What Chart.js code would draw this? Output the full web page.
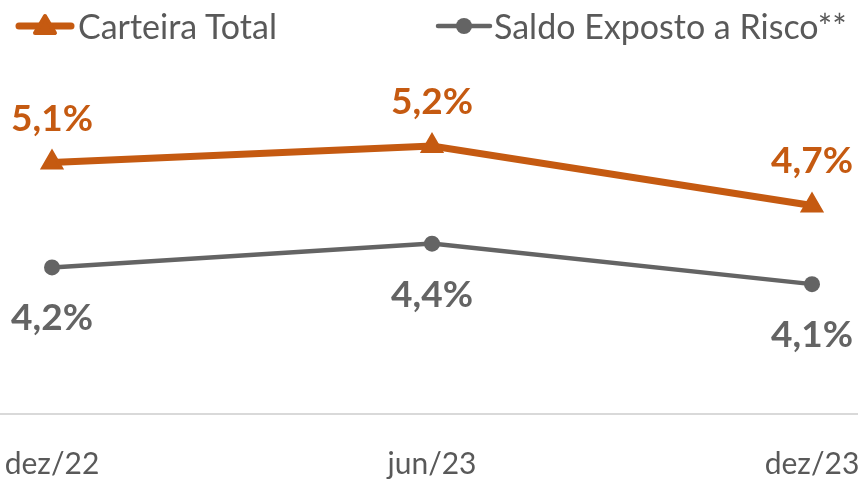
<!DOCTYPE html>
<html lang="pt">
<head>
    <meta charset="UTF-8">
    <title>Carteira Total x Saldo Exposto a Risco</title>
    <script src="https://cdn.jsdelivr.net/npm/chart.js@4"></script>
    <style>
        html, body {
            margin: 0;
            padding: 0;
            background: #ffffff;
        }
        #wrap {
            position: relative;
            width: 858px;
            height: 479px;
        }
        .legenda {
            position: absolute;
            top: 4px;
            height: 44px;
            line-height: 44px;
            font-family: Lato, "Open Sans", sans-serif;
            font-size: 34px;
            color: #595959;
            white-space: nowrap;
        }
        .legenda canvas {
            position: absolute;
            top: 7px;
            left: 0;
        }
        #leg1 { left: 15px; padding-left: 63px; }
        #leg2 { left: 434px; padding-left: 60px; }
    </style>
</head>
<body>
    <div id="wrap">
        <canvas id="grafico"></canvas>
        <div class="legenda" id="leg1"><canvas id="ico1" width="60" height="30"></canvas>Carteira Total</div>
        <div class="legenda" id="leg2"><canvas id="ico2" width="60" height="30"></canvas>Saldo Exposto a Risco**</div>
    </div>

    <script>
        // dados
        const periodos = ['dez/22', 'jun/23', 'dez/23'];
        const carteiraTotal = [5.08, 5.22, 4.72];
        const saldoExposto = [4.20, 4.40, 4.06];

        const laranja = '#C55A11';
        const cinza = '#646464';
        const texto = '#595959';
        const fonte = 'Lato, "Open Sans", sans-serif';

        // ícones da legenda: linha com marcador
        function desenhaIcone(id, cor, tipo, espessura) {
            const ctx = document.getElementById(id).getContext('2d');
            ctx.strokeStyle = cor;
            ctx.fillStyle = cor;
            ctx.lineCap = 'round';
            ctx.lineWidth = espessura;
            ctx.beginPath();
            ctx.moveTo(4, 15);
            ctx.lineTo(56, 15);
            ctx.stroke();
            if (tipo === 'triangle') {
                ctx.lineJoin = 'round';
                ctx.lineWidth = 4;
                ctx.beginPath();
                ctx.moveTo(30, 5);
                ctx.lineTo(40, 22);
                ctx.lineTo(20, 22);
                ctx.closePath();
                ctx.fill();
                ctx.stroke();
            } else {
                ctx.beginPath();
                ctx.arc(30, 15, 8, 0, Math.PI * 2);
                ctx.fill();
            }
        }
        desenhaIcone('ico1', laranja, 'triangle', 7);
        desenhaIcone('ico2', cinza, 'circle', 4.5);

        // rótulos de dados (acima para laranja, abaixo para cinza)
        const rotulos = {
            id: 'rotulos',
            afterDatasetsDraw(chart) {
                const ctx = chart.ctx;
                ctx.save();
                ctx.font = 'bold 37px ' + fonte;
                ctx.textAlign = 'center';
                ctx.textBaseline = 'middle';
                chart.data.datasets.forEach((ds, i) => {
                    const meta = chart.getDatasetMeta(i);
                    ctx.fillStyle = ds.borderColor;
                    meta.data.forEach((pt, j) => {
                        const txt = ds.data[j].toFixed(1).replace('.', ',') + '%';
                        const dy = i === 0 ? -44 : 51;
                        ctx.fillText(txt, pt.x, pt.y + dy);
                    });
                });
                ctx.restore();
            }
        };

        // linha de base ao longo de toda a largura
        const linhaBase = {
            id: 'linhaBase',
            beforeDatasetsDraw(chart) {
                const ctx = chart.ctx;
                const y = chart.chartArea.bottom;
                ctx.save();
                ctx.strokeStyle = '#D9D9D9';
                ctx.lineWidth = 2;
                ctx.beginPath();
                ctx.moveTo(0, y);
                ctx.lineTo(chart.width, y);
                ctx.stroke();
                ctx.restore();
            }
        };

        new Chart(document.getElementById('grafico'), {
            type: 'line',
            data: {
                labels: periodos,
                datasets: [{
                    label: 'Carteira Total',
                    data: carteiraTotal,
                    borderColor: laranja,
                    backgroundColor: laranja,
                    borderWidth: 7,
                    pointStyle: 'triangle',
                    pointRadius: 11,
                    pointBorderWidth: 3,
                    pointHoverRadius: 11,
                    tension: 0
                }, {
                    label: 'Saldo Exposto a Risco**',
                    data: saldoExposto,
                    borderColor: cinza,
                    backgroundColor: cinza,
                    borderWidth: 4.5,
                    pointStyle: 'circle',
                    pointRadius: 8,
                    pointBorderWidth: 0,
                    pointHoverRadius: 8,
                    tension: 0
                }]
            },
            options: {
                responsive: true,
                maintainAspectRatio: false,
                animation: false,
                layout: {
                    padding: { left: 52, right: 46, top: 53, bottom: 0 }
                },
                plugins: {
                    legend: { display: false },
                    tooltip: { enabled: false }
                },
                scales: {
                    x: {
                        offset: false,
                        grid: { display: false },
                        border: { display: false },
                        ticks: {
                            color: texto,
                            padding: 24,
                            font: { family: fonte, size: 30 }
                        },
                        afterFit(scale) {
                            // rótulos podem ultrapassar a área (como no original)
                            scale.paddingLeft = 0;
                            scale.paddingRight = 0;
                            scale.height = 65;
                        }
                    },
                    y: {
                        display: false,
                        min: 2.97,
                        max: 6
                    }
                }
            },
            plugins: [linhaBase, rotulos]
        });
    </script>
</body>
</html>
